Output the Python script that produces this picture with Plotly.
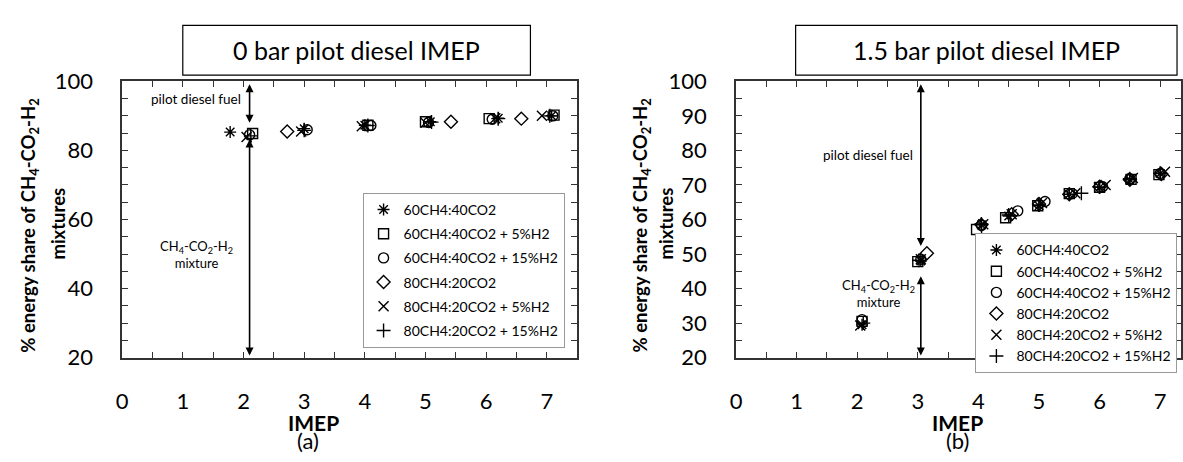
import plotly.graph_objects as go

# ---------------- data ----------------
series_names = ["60CH4:40CO2", "60CH4:40CO2 + 5%H2", "60CH4:40CO2 + 15%H2",
                "80CH4:20CO2", "80CH4:20CO2 + 5%H2", "80CH4:20CO2 + 15%H2"]
series_symbols = ["asterisk-open", "square-open", "circle-open",
                  "diamond-open", "x-thin-open", "cross-thin-open"]

# (a) 0 bar pilot diesel IMEP
a_imep = [
    [1.78, 3.00, 4.00, 5.08, 6.20, 7.08],
    [2.15, 4.05, 5.00, 6.05, 7.12],
    [2.10, 3.05, 4.10, 5.05, 6.10, 7.10],
    [2.72, 5.42, 6.58],
    [2.05, 2.95, 3.95, 5.00, 6.15, 6.92],
    [2.12, 3.00, 4.05, 5.10, 6.20, 7.05],
]
a_share = [
    [85.3, 86.3, 87.3, 88.3, 89.3, 90.0],
    [84.9, 87.3, 88.3, 89.2, 90.2],
    [84.5, 86.0, 87.2, 88.1, 89.0, 90.0],
    [85.5, 88.3, 89.2],
    [83.9, 85.5, 87.0, 88.0, 89.3, 90.0],
    [84.2, 85.8, 87.2, 88.2, 89.2, 90.0],
]

# (b) 1.5 bar pilot diesel IMEP
b_imep = [
    [2.08, 3.05, 4.05, 4.50, 5.00, 5.50, 6.00, 6.50, 7.00],
    [2.08, 3.00, 3.97, 4.45, 4.98, 5.50, 6.00, 6.52, 6.98],
    [2.08, 3.05, 4.05, 4.65, 5.10, 5.55, 6.05, 6.50, 7.00],
    [3.15, 4.05, 4.55, 5.00, 5.50, 6.00, 6.50, 7.02],
    [2.05, 3.05, 4.08, 4.55, 5.05, 5.60, 6.10, 6.55, 7.08],
    [2.10, 3.02, 4.05, 4.50, 5.00, 5.70, 6.00, 6.50, 7.00],
]
b_share = [
    [29.5, 48.0, 58.5, 61.0, 64.0, 67.3, 69.3, 71.5, 73.3],
    [30.5, 47.8, 57.1, 60.5, 64.0, 67.5, 69.3, 71.6, 73.0],
    [31.0, 48.5, 58.3, 62.5, 65.2, 67.5, 69.5, 71.8, 73.3],
    [50.2, 58.5, 61.5, 64.5, 67.3, 69.5, 71.5, 73.2],
    [29.3, 48.5, 58.6, 61.5, 64.8, 67.6, 70.0, 72.0, 73.8],
    [30.0, 48.2, 58.7, 61.3, 64.2, 67.6, 69.4, 71.8, 73.4],
]

x_tick_vals = [0, 1, 2, 3, 4, 5, 6, 7]
a_y_ticks = [20, 40, 60, 80, 100]
b_y_ticks = [20, 30, 40, 50, 60, 70, 80, 90, 100]

titles = ["0 bar pilot diesel IMEP", "1.5 bar pilot diesel IMEP"]
y_title_1 = "<b>% energy share of CH<sub>4</sub>-CO<sub>2</sub>-H<sub>2</sub></b>"
y_title_2 = "<b>mixtures</b>"
x_title = "<b>IMEP</b>"
panel_labels = ["(a)", "(b)"]

# divider arrows: (x, top_start, top_end, bottom_start, bottom_end)
a_arrow = (2.10, 99.6, 88.0, 83.6, 20.6)
b_arrow = (3.05, 99.6, 52.3, 44.0, 20.6)

# ---------------- figure ----------------
W, H = 1183, 462
FONT = "Lato"


def px(x):
    return x / W


def py(y):
    return 1 - y / H


fig = go.Figure()

for i in range(6):
    fig.add_trace(go.Scatter(
        x=a_imep[i], y=a_share[i], mode="markers", name=series_names[i],
        xaxis="x", yaxis="y", legend="legend", legendgroup="a%d" % i,
        marker=dict(symbol=series_symbols[i], size=10, color="black",
                    line=dict(color="black", width=1.4)),
    ))
for i in range(6):
    fig.add_trace(go.Scatter(
        x=b_imep[i], y=b_share[i], mode="markers", name=series_names[i],
        xaxis="x2", yaxis="y2", legend="legend2", legendgroup="b%d" % i,
        marker=dict(symbol=series_symbols[i], size=10, color="black",
                    line=dict(color="black", width=1.4)),
    ))

axis_common = dict(
    showline=True, linecolor="#333", linewidth=1.5, mirror="ticks",
    ticks="inside", ticklen=6, tickcolor="#333", tickwidth=1,
    showgrid=False, zeroline=False,
    tickfont=dict(family=FONT, size=22, color="black"),
)

ydom = [py(365), py(71.5)]
fig.update_layout(
    width=W, height=H,
    margin=dict(l=0, r=0, t=0, b=0),
    paper_bgcolor="white", plot_bgcolor="white",
    font=dict(family=FONT, color="black"),
    xaxis=dict(domain=[px(117), px(575)], range=[0, 7.5], anchor="y",
               tickvals=x_tick_vals, ticklabelstandoff=23,
               minor=dict(dtick=0.5, ticks="inside", ticklen=6, tickcolor="#333"),
               **axis_common),
    yaxis=dict(domain=ydom, range=[20, 100], anchor="x",
               tickvals=a_y_ticks, ticklabelstandoff=23,
               minor=dict(dtick=5, ticks="inside", ticklen=6, tickcolor="#333"),
               **axis_common),
    xaxis2=dict(domain=[px(735), 1], range=[0, (W - 735) / 61.0], anchor="y2",
                tickvals=x_tick_vals, ticklabelstandoff=23,
                minor=dict(dtick=0.5, ticks="inside", ticklen=6, tickcolor="#333"),
                **axis_common),
    yaxis2=dict(domain=ydom, range=[20, 100], anchor="x2",
                tickvals=b_y_ticks, ticklabelstandoff=23,
                minor=dict(dtick=5, ticks="inside", ticklen=6, tickcolor="#333"),
                **axis_common),
    legend=dict(x=px(359), y=py(190), xanchor="left", yanchor="top",
                bgcolor="white", bordercolor="#999", borderwidth=1,
                font=dict(family=FONT, size=14, color="black"),
                tracegroupgap=3, itemwidth=30),
    legend2=dict(x=px(976), y=py(233), xanchor="left", yanchor="top",
                 bgcolor="white", bordercolor="#999", borderwidth=1,
                 font=dict(family=FONT, size=14, color="black"),
                 tracegroupgap=0, itemwidth=30),
    showlegend=True,
)

# title boxes
boxes = [(178, 528), (795, 1179)]
for (x0, x1), t in zip(boxes, titles):
    fig.add_shape(type="rect", xref="paper", yref="paper",
                  x0=px(x0), x1=px(x1), y0=py(65), y1=py(12),
                  line=dict(color="black", width=1.2), fillcolor="white")
    fig.add_annotation(xref="paper", yref="paper", x=px((x0 + x1) / 2), y=py(38.5),
                       text=t, showarrow=False, xanchor="center", yanchor="middle",
                       font=dict(family=FONT, size=25, color="black"))

# axis titles
for x1c, x2c in [(24, 52), (640, 664)]:
    fig.add_annotation(xref="paper", yref="paper", x=px(x1c), y=py(225), text=y_title_1,
                       textangle=-90, showarrow=False, xanchor="center", yanchor="middle",
                       font=dict(family=FONT, size=18.5, color="black"))
    fig.add_annotation(xref="paper", yref="paper", x=px(x2c), y=py(223), text=y_title_2,
                       textangle=-90, showarrow=False, xanchor="center", yanchor="middle",
                       font=dict(family=FONT, size=18.5, color="black"))

for xc in [310, 958]:
    fig.add_annotation(xref="paper", yref="paper", x=px(xc), y=py(434), text=x_title,
                       showarrow=False, xanchor="center", yanchor="middle",
                       font=dict(family=FONT, size=21, color="black"))
for xc, lab in [(304, panel_labels[0]), (958, panel_labels[1])]:
    fig.add_annotation(xref="paper", yref="paper", x=px(xc), y=py(453), text=lab,
                       showarrow=False, xanchor="center", yanchor="middle",
                       font=dict(family=FONT, size=22, color="black"))

# arrows and in-plot labels
for (xa, ya), arr in [(("x", "y"), a_arrow), (("x2", "y2"), b_arrow)]:
    xv, t0, t1, b0, b1 = arr
    for s, e in [(t0, t1), (b0, b1)]:
        fig.add_annotation(xref=xa, yref=ya, axref=xa, ayref=ya,
                           x=xv, y=e, ax=xv, ay=s, text="", showarrow=True,
                           arrowhead=2, startarrowhead=2, arrowside="end+start",
                           arrowsize=1, arrowwidth=1.6, arrowcolor="black", standoff=0,
                           startstandoff=0)

fig.add_annotation(xref="x", yref="y", x=1.22, y=95.0, text="pilot diesel fuel",
                   showarrow=False, font=dict(family=FONT, size=13.5, color="black"))
fig.add_annotation(xref="x", yref="y", x=1.22, y=50.0,
                   text="CH<sub>4</sub>-CO<sub>2</sub>-H<sub>2</sub><br>mixture",
                   showarrow=False, font=dict(family=FONT, size=13, color="black"))
fig.add_annotation(xref="x2", yref="y2", x=2.18, y=78.6, text="pilot diesel fuel",
                   showarrow=False, font=dict(family=FONT, size=13.5, color="black"))
fig.add_annotation(xref="x2", yref="y2", x=2.35, y=38.5,
                   text="CH<sub>4</sub>-CO<sub>2</sub>-H<sub>2</sub><br>mixture",
                   showarrow=False, font=dict(family=FONT, size=13, color="black"))

fig.write_html("out.html", post_script="document.body.style.margin='0';")
